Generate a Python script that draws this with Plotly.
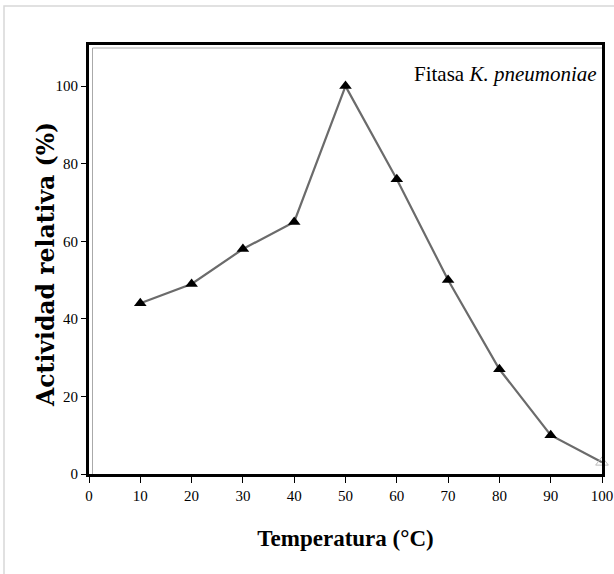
import plotly.graph_objects as go

temperatura = [10, 20, 30, 40, 50, 60, 70, 80, 90, 100]
actividad = [44, 49, 58, 65, 100, 76, 50, 27, 10, 3]
x_ticks = [0, 10, 20, 30, 40, 50, 60, 70, 80, 90, 100]
y_ticks = [0, 20, 40, 60, 80, 100]

W, H = 614, 574
L, R, T, B = 89, 12, 45, 100
pw = W - L - R
ph = H - T - B

fig = go.Figure()
fig.add_trace(go.Scatter(
    x=temperatura, y=actividad, mode="lines",
    line=dict(color="#6b6b6b", width=2.2), showlegend=False, hoverinfo="skip"))
fig.add_trace(go.Scatter(
    x=temperatura[:-1], y=actividad[:-1], mode="markers",
    marker=dict(symbol="triangle-up", size=11, color="black"),
    showlegend=False))
fig.add_trace(go.Scatter(
    x=temperatura[-1:], y=actividad[-1:], mode="markers",
    marker=dict(symbol="triangle-up-open", size=11, color="#bbbbbb"),
    showlegend=False, cliponaxis=False))

font = "Liberation Serif, Times New Roman, serif"
fig.update_layout(
    width=W, height=H,
    margin=dict(l=L, r=R, t=T, b=B, autoexpand=False),
    paper_bgcolor="white", plot_bgcolor="white",
    font=dict(family=font, color="black", size=15),
    xaxis=dict(range=[0, 100], tickvals=x_ticks, ticks="outside", ticklen=6,
               tickcolor="black", showgrid=False, zeroline=False,
               showline=True, linecolor="black", linewidth=3, mirror=True,
               automargin=False, tickfont=dict(size=15),
               title=dict(text="<b>Temperatura (°C)</b>",
                          font=dict(size=23, family=font), standoff=27)),
    yaxis=dict(range=[0, 110.6], tickvals=y_ticks, ticks="outside", ticklen=5,
               tickcolor="black", showgrid=False, zeroline=False,
               showline=True, linecolor="black", linewidth=3, mirror=True,
               automargin=False, tickfont=dict(size=15)),
    annotations=[
        dict(text="Fitasa <i>K. pneumoniae</i>", x=0.995, y=0.965,
             xref="paper", yref="paper", xanchor="right", yanchor="top",
             showarrow=False, font=dict(size=21, family=font)),
        dict(text="<b>Actividad relativa (%)</b>", textangle=-90,
             x=(46 - L) / pw, y=(H - B - 265) / ph,
             xref="paper", yref="paper", xanchor="center", yanchor="middle",
             showarrow=False, font=dict(size=23.5, family="DejaVu Serif")),
    ],
)

# light outer frame
fig.add_shape(type="rect", xref="paper", yref="paper",
              x0=(4 - L) / pw, x1=(W + 5 - L) / pw,
              y0=(H - B - (H + 5)) / ph, y1=(H - B - 6) / ph,
              line=dict(color="#d8d8d8", width=1.5), layer="below")
# inner gray shadow lines
fig.add_shape(type="line", xref="paper", yref="paper",
              x0=3.5 / pw, x1=3.5 / pw, y0=0, y1=1 - 3 / ph,
              line=dict(color="#aaaaaa", width=1))
fig.add_shape(type="line", xref="paper", yref="paper",
              x0=3.5 / pw, x1=1, y0=1 - 3 / ph, y1=1 - 3 / ph,
              line=dict(color="#aaaaaa", width=1))

fig.write_html("out.html")
